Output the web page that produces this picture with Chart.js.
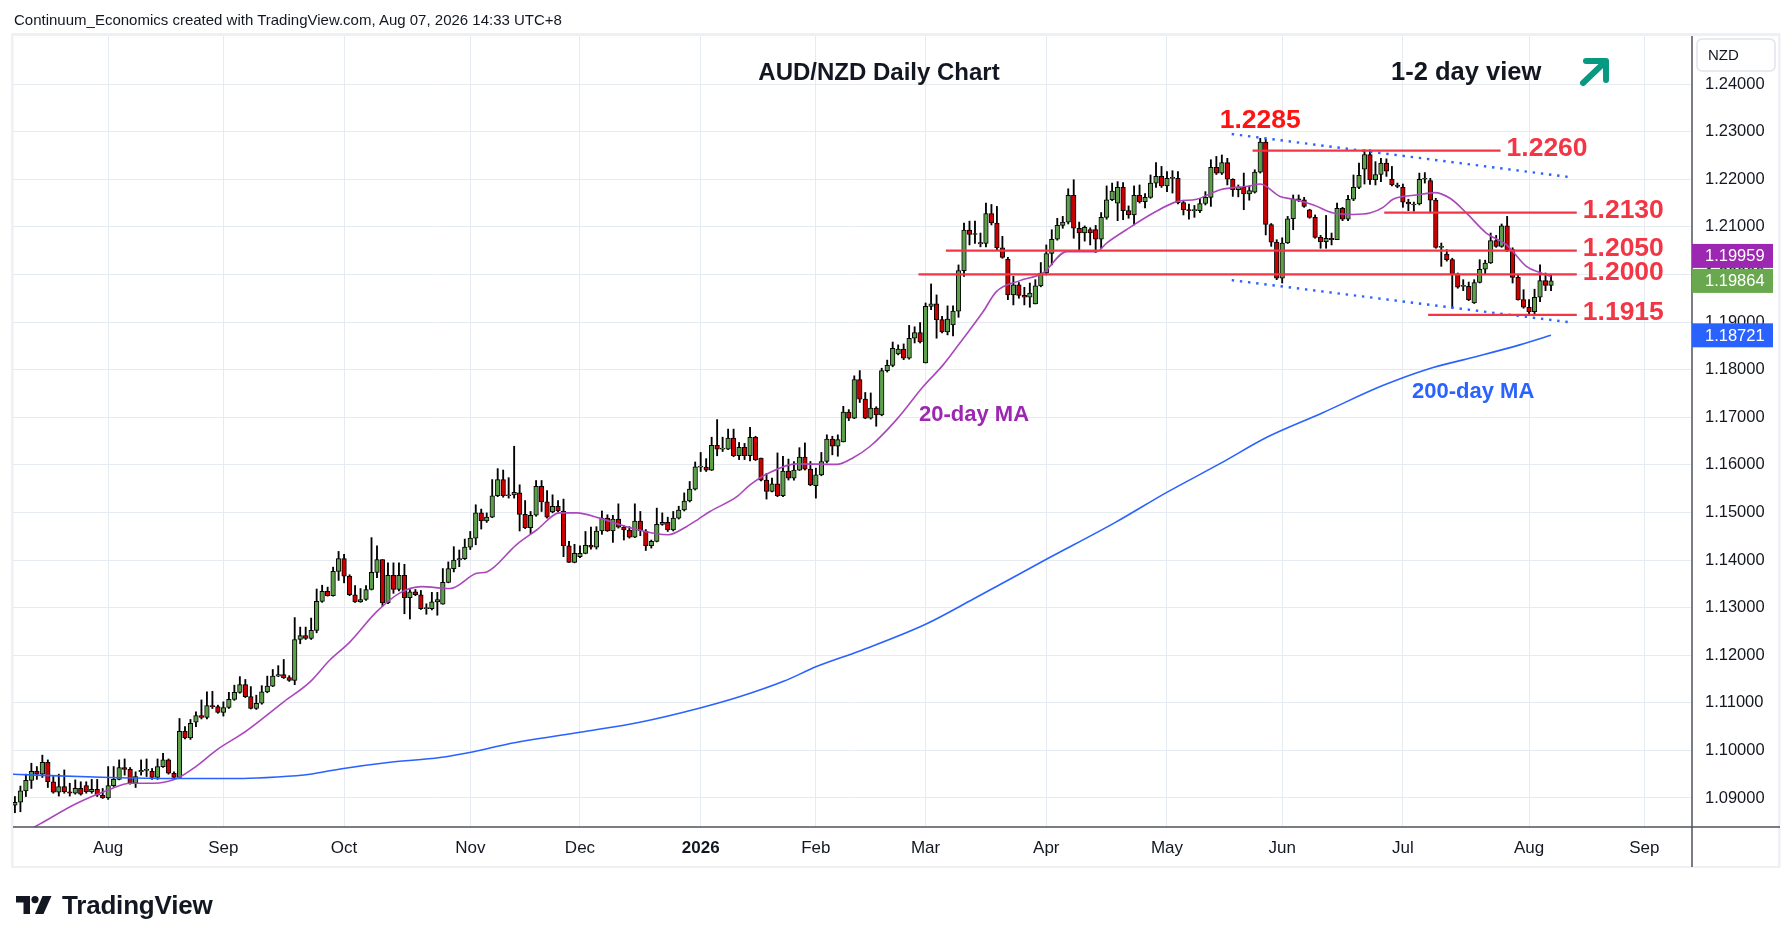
<!DOCTYPE html>
<html>
<head>
<meta charset="utf-8">
<title>AUD/NZD Daily Chart</title>
<script src="https://cdn.jsdelivr.net/npm/chart.js@4.4.1/dist/chart.umd.min.js"></script>
<style>
html, body { margin: 0; padding: 0; background: #fff; }
#wrap { position: relative; width: 1792px; height: 942px; overflow: hidden; font-family: 'Liberation Sans', Arial, sans-serif; }
#chart { position: absolute; left: 0; top: 0; }
#hdr { position: absolute; left: 14px; top: 10px; font-size: 15px; line-height: 20px; color: #131722; white-space: nowrap; }
#brand { position: absolute; left: 16px; top: 892px; height: 26px; display: flex; align-items: center; }
#brand span { font-size: 26px; font-weight: bold; color: #131722; margin-left: 10px; letter-spacing: -0.2px; }
</style>
</head>
<body>
<div id="wrap">
  <canvas id="chart" width="1792" height="942"></canvas>
  <div id="hdr">Continuum_Economics created with TradingView.com, Aug 07, 2026 14:33 UTC+8</div>
  <div id="brand">
    <svg width="36" height="20" viewBox="0 0 36 20"><path d="M0 1h14v18h-6.5v-11.5h-7.5z" fill="#131722"/><circle cx="19" cy="4.6" r="3.6" fill="#131722"/><path d="M26.5 1h9l-8 18h-8.5z" fill="#131722"/></svg>
    <span>TradingView</span>
  </div>
</div>
<script>
// daily AUD/NZD bars, index 0 = 9 Jul 2025 ... 280 = 7 Aug 2026 (weekdays only)
var opens = [
  1.0885,1.0891,1.0915,1.0937,1.0956,1.0950,1.0975,1.0934,1.0912,1.0924,
  1.0913,1.0910,1.0920,1.0926,1.0913,1.0918,1.0906,1.0900,1.0926,1.0939,
  1.0964,1.0960,1.0931,1.0955,1.0958,1.0956,1.0943,1.0966,1.0980,1.0952,
  1.0943,1.1040,1.1026,1.1059,1.1073,1.1069,1.1094,1.1092,1.1080,1.1090,
  1.1107,1.1122,1.1138,1.1113,1.1088,1.1099,1.1123,1.1135,1.1156,1.1159,
  1.1153,1.1147,1.1233,1.1241,1.1235,1.1252,1.1313,1.1334,1.1325,1.1376,
  1.1403,1.1366,1.1327,1.1312,1.1317,1.1338,1.1374,1.1401,1.1310,1.1368,
  1.1338,1.1368,1.1321,1.1333,1.1327,1.1298,1.1298,1.1312,1.1307,1.1353,
  1.1382,1.1400,1.1403,1.1427,1.1446,1.1499,1.1482,1.1490,1.1535,1.1569,
  1.1535,1.1537,1.1541,1.1496,1.1468,1.1494,1.1555,1.1522,1.1501,1.1513,
  1.1503,1.1430,1.1395,1.1407,1.1414,1.1431,1.1427,1.1461,1.1488,1.1461,
  1.1486,1.1469,1.1463,1.1448,1.1482,1.1461,1.1430,1.1439,1.1475,1.1479,
  1.1463,1.1488,1.1505,1.1524,1.1549,1.1595,1.1595,1.1589,1.1641,1.1633,
  1.1633,1.1656,1.1619,1.1637,1.1619,1.1658,1.1614,1.1568,1.1544,1.1560,
  1.1535,1.1587,1.1572,1.1589,1.1616,1.1591,1.1556,1.1579,1.1607,1.1654,
  1.1639,1.1648,1.1711,1.1698,1.1779,1.1738,1.1698,1.1719,1.1705,1.1798,
  1.1809,1.1833,1.1843,1.1824,1.1866,1.1878,1.1814,1.1933,1.1938,1.1905,
  1.1879,1.1894,1.1923,1.2008,1.2093,1.2084,1.2064,1.2065,1.2128,1.2108,
  1.2056,1.2032,1.1957,1.1978,1.1956,1.1952,1.1938,1.1976,1.2003,1.2044,
  1.2074,1.2103,1.2110,1.2166,1.2097,1.2087,1.2094,1.2094,1.2074,1.2120,
  1.2157,1.2150,1.2183,1.2134,1.2125,1.2166,1.2153,1.2162,1.2192,1.2206,
  1.2186,1.2202,1.2202,1.2151,1.2136,1.2134,1.2134,1.2149,1.2162,1.2225,
  1.2213,1.2235,1.2200,1.2178,1.2183,1.2169,1.2173,1.2215,1.2278,1.2105,
  1.2068,1.1992,1.2066,1.2117,1.2159,1.2157,1.2136,1.2120,1.2078,1.2069,
  1.2076,1.2073,1.2139,1.2116,1.2158,1.2183,1.2221,1.2252,1.2199,1.2210,
  1.2234,1.2200,1.2188,1.2183,1.2152,1.2146,1.2148,1.2200,1.2197,1.2156,
  1.2057,1.2043,1.2031,1.2001,1.1975,1.1975,1.1940,1.1983,1.2011,1.2024,
  1.2071,1.2059,1.2102,1.2052,1.1994,1.1947,1.1931,1.1922,1.1952,1.1987,
  1.1977
];
var highs = [
  1.0903,1.0925,1.0950,1.0973,1.0966,1.0990,1.0980,1.0945,1.0950,1.0959,
  1.0931,1.0938,1.0934,1.0934,1.0939,1.0939,1.0920,1.0966,1.0966,1.0980,
  1.0982,1.0964,1.0955,1.0980,1.0982,1.0962,1.0982,1.0994,1.0982,1.0955,
  1.1067,1.1050,1.1065,1.1081,1.1106,1.1123,1.1124,1.1095,1.1102,1.1122,
  1.1137,1.1155,1.1149,1.1134,1.1116,1.1136,1.1156,1.1170,1.1178,1.1191,
  1.1157,1.1279,1.1259,1.1259,1.1278,1.1339,1.1347,1.1343,1.1385,1.1418,
  1.1412,1.1369,1.1346,1.1340,1.1346,1.1447,1.1430,1.1401,1.1394,1.1394,
  1.1394,1.1391,1.1338,1.1338,1.1336,1.1308,1.1332,1.1332,1.1382,1.1396,
  1.1428,1.1421,1.1444,1.1460,1.1516,1.1507,1.1499,1.1569,1.1592,1.1589,
  1.1573,1.1639,1.1558,1.1525,1.1502,1.1567,1.1567,1.1546,1.1537,1.1525,
  1.1528,1.1439,1.1433,1.1430,1.1460,1.1469,1.1470,1.1503,1.1495,1.1494,
  1.1518,1.1472,1.1470,1.1518,1.1502,1.1464,1.1442,1.1509,1.1499,1.1490,
  1.1502,1.1513,1.1541,1.1565,1.1606,1.1626,1.1613,1.1658,1.1695,1.1658,
  1.1675,1.1675,1.1647,1.1645,1.1679,1.1660,1.1614,1.1582,1.1572,1.1625,
  1.1618,1.1612,1.1607,1.1636,1.1646,1.1607,1.1593,1.1626,1.1663,1.1660,
  1.1663,1.1723,1.1716,1.1787,1.1798,1.1752,1.1751,1.1722,1.1803,1.1820,
  1.1858,1.1852,1.1854,1.1893,1.1890,1.1899,1.1940,1.1980,1.1957,1.1912,
  1.1934,1.1934,1.2020,1.2108,1.2112,1.2112,1.2087,1.2150,1.2147,1.2143,
  1.2080,1.2036,1.1996,1.1983,1.1973,1.1982,1.1989,1.2025,1.2062,1.2094,
  1.2118,1.2122,1.2180,1.2199,1.2110,1.2102,1.2098,1.2103,1.2130,1.2186,
  1.2192,1.2195,1.2193,1.2144,1.2186,1.2188,1.2170,1.2209,1.2235,1.2227,
  1.2216,1.2218,1.2216,1.2156,1.2148,1.2145,1.2160,1.2174,1.2241,1.2248,
  1.2251,1.2244,1.2201,1.2188,1.2213,1.2186,1.2220,1.2286,1.2284,1.2107,
  1.2073,1.2077,1.2122,1.2167,1.2167,1.2162,1.2137,1.2125,1.2082,1.2124,
  1.2087,1.2150,1.2141,1.2166,1.2209,1.2234,1.2262,1.2262,1.2237,1.2244,
  1.2243,1.2227,1.2192,1.2190,1.2158,1.2152,1.2213,1.2214,1.2202,1.2160,
  1.2066,1.2052,1.2034,1.2003,1.1989,1.1984,1.1989,1.2031,1.2030,1.2087,
  1.2082,1.2106,1.2122,1.2056,1.1999,1.1968,1.1947,1.1969,1.2020,1.2003,
  1.1999
];
var lows = [
  1.0869,1.0871,1.0903,1.0920,1.0939,1.0943,1.0922,1.0910,1.0904,1.0910,
  1.0904,1.0908,1.0906,1.0910,1.0910,1.0903,1.0899,1.0897,1.0924,1.0938,
  1.0948,1.0929,1.0922,1.0948,1.0945,1.0939,1.0939,1.0964,1.0950,1.0939,
  1.0941,1.1024,1.1023,1.1050,1.1066,1.1066,1.1088,1.1078,1.1072,1.1088,
  1.1105,1.1120,1.1111,1.1087,1.1086,1.1097,1.1121,1.1134,1.1155,1.1151,
  1.1145,1.1138,1.1224,1.1233,1.1233,1.1247,1.1311,1.1324,1.1324,1.1357,
  1.1352,1.1325,1.1311,1.1311,1.1315,1.1337,1.1363,1.1303,1.1308,1.1330,
  1.1335,1.1287,1.1276,1.1325,1.1296,1.1286,1.1295,1.1284,1.1307,1.1352,
  1.1375,1.1386,1.1401,1.1422,1.1432,1.1465,1.1479,1.1489,1.1533,1.1532,
  1.1530,1.1530,1.1461,1.1466,1.1455,1.1492,1.1502,1.1488,1.1499,1.1501,
  1.1407,1.1395,1.1394,1.1405,1.1413,1.1423,1.1423,1.1454,1.1460,1.1437,
  1.1467,1.1442,1.1446,1.1447,1.1451,1.1420,1.1425,1.1438,1.1473,1.1460,
  1.1461,1.1486,1.1503,1.1522,1.1547,1.1586,1.1586,1.1588,1.1619,1.1628,
  1.1632,1.1617,1.1611,1.1611,1.1608,1.1609,1.1566,1.1528,1.1543,1.1533,
  1.1533,1.1568,1.1568,1.1588,1.1589,1.1556,1.1530,1.1577,1.1604,1.1621,
  1.1618,1.1648,1.1693,1.1697,1.1731,1.1697,1.1696,1.1681,1.1703,1.1795,
  1.1806,1.1831,1.1821,1.1822,1.1856,1.1856,1.1814,1.1926,1.1866,1.1877,
  1.1873,1.1871,1.1910,1.1996,1.2062,1.2065,1.2058,1.2058,1.2104,1.2052,
  1.2034,1.1947,1.1936,1.1950,1.1936,1.1931,1.1938,1.1974,1.1999,1.2020,
  1.2072,1.2097,1.2106,1.2076,1.2048,1.2070,1.2062,1.2046,1.2055,1.2116,
  1.2155,1.2113,1.2115,1.2118,1.2104,1.2150,1.2140,1.2160,1.2183,1.2183,
  1.2174,1.2171,1.2148,1.2125,1.2116,1.2120,1.2130,1.2146,1.2143,1.2210,
  1.2210,1.2188,1.2164,1.2163,1.2136,1.2156,1.2171,1.2213,1.2083,1.2059,
  1.1989,1.1982,1.2065,1.2094,1.2153,1.2141,1.2118,1.2076,1.2055,1.2055,
  1.2062,1.2073,1.2113,1.2113,1.2155,1.2180,1.2190,1.2189,1.2188,1.2195,
  1.2206,1.2186,1.2182,1.2141,1.2134,1.2133,1.2146,1.2192,1.2130,1.2055,
  1.2017,1.2028,1.1929,1.1971,1.1966,1.1945,1.1939,1.1982,1.2001,1.2023,
  1.2057,1.2057,1.2048,1.1982,1.1946,1.1929,1.1915,1.1915,1.1943,1.1966,
  1.1966
];
var closes = [
  1.0891,1.0915,1.0937,1.0956,1.0950,1.0975,1.0934,1.0912,1.0924,1.0913,
  1.0910,1.0920,1.0908,1.0913,1.0918,1.0906,1.0900,1.0926,1.0939,1.0964,
  1.0960,1.0931,1.0945,1.0958,1.0958,1.0943,1.0966,1.0980,1.0952,1.0943,
  1.1040,1.1026,1.1057,1.1073,1.1069,1.1094,1.1092,1.1080,1.1090,1.1107,
  1.1122,1.1138,1.1113,1.1088,1.1099,1.1123,1.1135,1.1156,1.1159,1.1153,
  1.1147,1.1233,1.1241,1.1235,1.1252,1.1313,1.1334,1.1325,1.1376,1.1403,
  1.1366,1.1327,1.1312,1.1317,1.1338,1.1374,1.1401,1.1310,1.1368,1.1338,
  1.1368,1.1321,1.1333,1.1327,1.1298,1.1298,1.1312,1.1317,1.1353,1.1382,
  1.1400,1.1403,1.1427,1.1446,1.1499,1.1482,1.1490,1.1535,1.1569,1.1535,
  1.1537,1.1542,1.1496,1.1468,1.1494,1.1555,1.1522,1.1490,1.1513,1.1503,
  1.1430,1.1395,1.1414,1.1414,1.1431,1.1427,1.1461,1.1488,1.1461,1.1486,
  1.1469,1.1463,1.1448,1.1482,1.1461,1.1430,1.1439,1.1475,1.1479,1.1463,
  1.1488,1.1505,1.1524,1.1549,1.1596,1.1595,1.1589,1.1641,1.1633,1.1633,
  1.1656,1.1619,1.1637,1.1619,1.1658,1.1611,1.1568,1.1544,1.1560,1.1535,
  1.1587,1.1572,1.1589,1.1616,1.1591,1.1558,1.1579,1.1607,1.1654,1.1639,
  1.1653,1.1711,1.1698,1.1779,1.1738,1.1698,1.1719,1.1705,1.1798,1.1809,
  1.1845,1.1843,1.1824,1.1866,1.1878,1.1858,1.1933,1.1938,1.1905,1.1879,
  1.1906,1.1923,1.2008,1.2093,1.2084,1.2084,1.2067,1.2128,1.2108,1.2056,
  1.2036,1.1957,1.1978,1.1956,1.1952,1.1961,1.1976,1.2003,1.2044,1.2074,
  1.2103,1.2110,1.2166,1.2097,1.2087,1.2099,1.2087,1.2074,1.2120,1.2157,
  1.2175,1.2183,1.2134,1.2125,1.2166,1.2153,1.2162,1.2192,1.2206,1.2186,
  1.2202,1.2202,1.2151,1.2136,1.2134,1.2134,1.2149,1.2162,1.2225,1.2213,
  1.2235,1.2200,1.2178,1.2183,1.2169,1.2176,1.2215,1.2278,1.2105,1.2068,
  1.1992,1.2066,1.2117,1.2159,1.2157,1.2143,1.2120,1.2078,1.2069,1.2076,
  1.2073,1.2139,1.2116,1.2158,1.2183,1.2208,1.2252,1.2199,1.2210,1.2234,
  1.2217,1.2188,1.2185,1.2152,1.2148,1.2148,1.2200,1.2201,1.2156,1.2057,
  1.2057,1.2031,1.2001,1.1973,1.1975,1.1947,1.1983,1.2011,1.2024,1.2071,
  1.2059,1.2102,1.2052,1.1994,1.1947,1.1931,1.1922,1.1952,1.1987,1.1977,
  1.19864
];

// moving averages (bar index, value)
var ma20Idx = [1.5,4.5,11.3,17.3,21,25.2,29.5,33.1,36.8,42.2,49,53.8,57.4,61,65.9,70.2,74.1,79.3,84.2,86,
  91.4,95.1,99.3,102.4,106.6,111.5,117,119.1,122.4,124.6,126.7,131.6,134,137.6,142.5,149.8,152.8,155.9,160.7,165.6,
  169.2,172.9,176.5,178.9,183.2,187.4,191.7,197.2,199,202.6,207.5,211.8,215.4,219.7,225.1,227,230.6,233,236.7,240.3,
  243.9,247,249.4,251.2,255.5,258.8,261.6,264.6,268.2,271.9,275.5,278,280];
var ma20Val = [1.0826,1.0845,1.0889,1.0918,1.0931,1.0931,1.0941,1.0967,1.1001,1.1041,1.1102,1.1144,1.1190,1.1227,1.1291,1.1331,1.1344,1.1340,1.1372,1.1375,
  1.1432,1.1463,1.1499,1.1499,1.1488,1.1470,1.1455,1.1453,1.1470,1.1486,1.1502,1.1533,1.1558,1.1584,1.1602,1.1601,1.1615,1.1639,1.1695,1.1765,
  1.1810,1.1866,1.1922,1.1964,1.1987,1.2003,1.2048,1.2048,1.2066,1.2094,1.2129,1.2153,1.2158,1.2178,1.2186,1.2190,1.2164,1.2158,1.2146,1.2129,
  1.2126,1.2129,1.2141,1.2158,1.2167,1.2172,1.2160,1.2129,1.2087,1.2062,1.2017,1.2004,1.19959];
var ma200Idx = [-1,17.3,29.5,41.6,47.7,53.8,59.3,68.4,77.5,83.6,89.7,103,113.9,124.9,132.2,140.1,146.1,154,166,174.7,
  188.1,200.6,209.8,219.9,228.2,238.3,249.2,257.5,265.9,274.3,280];
var ma200Val = [1.0950,1.0943,1.0941,1.0941,1.0944,1.0950,1.0961,1.0975,1.0985,1.0997,1.1013,1.1038,1.1059,1.1089,1.1113,1.1145,1.1176,1.1209,1.1265,1.1318,
  1.1402,1.1479,1.1541,1.1604,1.1658,1.1709,1.1766,1.1801,1.1826,1.1852,1.18721];

// support / resistance levels and the falling channel
var levels = [1.2260, 1.2130, 1.2050, 1.2000, 1.1915];
var levelFrom = [225.6, 249.6, 169.7, 164.7, 257.6];
var levelTo = [270.8, 284.7, 284.7, 284.7, 284.7];
var channelIdx = [221.8, 283.1];
var channelTop = [1.2295, 1.2205];
var channelBottom = [1.1988, 1.1900];
var peakIdx = 227;

// axis ticks
var monthIdx = [17, 38, 60, 83, 103, 125, 146, 166, 188, 210, 231, 253, 276, 297];
var monthLabels = ['Aug', 'Sep', 'Oct', 'Nov', 'Dec', '2026', 'Feb', 'Mar', 'Apr', 'May', 'Jun', 'Jul', 'Aug', 'Sep'];
var priceTicks = [1.09, 1.10, 1.11, 1.12, 1.13, 1.14, 1.15, 1.16, 1.17, 1.18, 1.19, 1.20, 1.21, 1.22, 1.23, 1.24];

var UP = '#5d9f4b';
var DOWN = '#cc0000';
var FONT = "'Liberation Sans', Arial, sans-serif";
Chart.defaults.font.family = FONT;
Chart.defaults.color = '#131722';

function points(xs, ys) {
    return xs.map(function (x, i) { return { x: x, y: ys[i] }; });
}

var wickData = closes.map(function (c, i) { return { x: i, y: [lows[i], highs[i]] }; });
var bodyData = closes.map(function (c, i) { return { x: i, y: [opens[i], c] }; });

var datasets = [
    {
        type: 'bar', data: wickData, grouped: false, barThickness: 1.2,
        backgroundColor: '#000', borderWidth: 0, order: 6
    },
    {
        type: 'bar', data: bodyData, grouped: false, barThickness: 4.6, minBarLength: 1,
        backgroundColor: function (ctx) {
            var i = ctx.dataIndex;
            return closes[i] >= opens[i] ? UP : DOWN;
        },
        borderColor: '#000', borderWidth: 1, borderSkipped: false, order: 5
    },
    {
        type: 'line', data: points(ma200Idx, ma200Val), borderColor: '#2962ff', borderWidth: 1.6,
        pointRadius: 0, cubicInterpolationMode: 'monotone', order: 3
    },
    {
        type: 'line', data: points(ma20Idx, ma20Val), borderColor: '#ab47bc', borderWidth: 1.6,
        pointRadius: 0, cubicInterpolationMode: 'monotone', order: 3
    },
    {
        type: 'line', data: points(channelIdx, channelTop), borderColor: '#2962ff', borderWidth: 2.4,
        borderDash: [2.4, 5.8], pointRadius: 0, order: 2
    },
    {
        type: 'line', data: points(channelIdx, channelBottom), borderColor: '#2962ff', borderWidth: 2.4,
        borderDash: [2.4, 5.8], pointRadius: 0, order: 2
    }
];
for (var k = 0; k < levels.length; k++) {
    datasets.push({
        type: 'line', data: [{ x: levelFrom[k], y: levels[k] }, { x: levelTo[k], y: levels[k] }],
        borderColor: '#f23645', borderWidth: 2.2, pointRadius: 0, order: 1
    });
}

function priceBox(c, yc, bg, txt) {
    c.fillStyle = bg;
    c.fillRect(1692, yc - 12, 81, 24);
    c.fillStyle = '#fff';
    c.font = '16.5px ' + FONT;
    c.textAlign = 'left';
    c.textBaseline = 'middle';
    c.fillText(txt, 1705, yc + 1);
}

var overlay = {
    id: 'overlay',
    beforeDraw: function (chart) {
        var c = chart.ctx;
        c.save();
        c.fillStyle = '#eef0f4';
        c.fillRect(11, 33, 1769, 3);
        c.fillRect(11, 33, 2.5, 835);
        c.fillRect(1778, 33, 2.5, 835);
        c.fillRect(11, 866, 1769, 2);
        c.restore();
    },
    afterDatasetsDraw: function (chart) {
        var c = chart.ctx;
        var xs = chart.scales.x, ys = chart.scales.y;
        c.save();
        c.textBaseline = 'middle';
        // title block
        c.fillStyle = '#131722';
        c.font = 'bold 24px ' + FONT;
        c.textAlign = 'center';
        c.fillText('AUD/NZD Daily Chart', 879, 73);
        c.textAlign = 'left';
        c.font = 'bold 25.5px ' + FONT;
        c.fillText('1-2 day view', 1391, 73);
        // up arrow
        c.strokeStyle = '#089981';
        c.lineWidth = 6;
        c.lineCap = 'round';
        c.lineJoin = 'round';
        c.beginPath();
        c.moveTo(1583, 83); c.lineTo(1605, 62);
        c.moveTo(1586, 61); c.lineTo(1606, 61); c.lineTo(1606, 80);
        c.stroke();
        // peak label
        c.fillStyle = '#ff1414';
        c.font = 'bold 26.5px ' + FONT;
        c.textAlign = 'center';
        c.fillText('1.2285', xs.getPixelForValue(peakIdx), ys.getPixelForValue(highs[peakIdx]) - 18);
        // level labels
        c.fillStyle = '#f23645';
        c.textAlign = 'left';
        for (var k = 0; k < levels.length; k++) {
            c.fillText(levels[k].toFixed(4), xs.getPixelForValue(levelTo[k]) + 6, ys.getPixelForValue(levels[k]) - 2);
        }
        // MA labels
        c.font = 'bold 22px ' + FONT;
        c.fillStyle = '#9c27b0';
        c.fillText('20-day MA', 919, 415);
        c.fillStyle = '#2962ff';
        c.fillText('200-day MA', 1412, 392);
        c.restore();
    },
    afterDraw: function (chart) {
        var c = chart.ctx;
        var ys = chart.scales.y;
        c.save();
        // axis separators
        c.strokeStyle = '#50535e';
        c.lineWidth = 1.5;
        c.beginPath();
        c.moveTo(13, 827); c.lineTo(1780, 827);
        c.moveTo(1692, 36); c.lineTo(1692, 867);
        c.stroke();
        // currency box
        c.fillStyle = '#fff';
        c.strokeStyle = '#e0e3eb';
        c.lineWidth = 1.5;
        c.beginPath();
        c.roundRect(1697, 39, 78, 32, 5);
        c.fill();
        c.stroke();
        c.fillStyle = '#131722';
        c.font = '15px ' + FONT;
        c.textBaseline = 'middle';
        c.fillText('NZD', 1708, 56);
        // last value labels
        var last = closes.length - 1;
        var yClose = ys.getPixelForValue(closes[last]);
        var yMa20 = Math.min(ys.getPixelForValue(ma20Val[ma20Val.length - 1]), yClose - 25);
        priceBox(c, yMa20, '#9c27b0', ma20Val[ma20Val.length - 1].toFixed(5));
        priceBox(c, yClose, '#6aa84f', closes[last].toFixed(5));
        priceBox(c, ys.getPixelForValue(ma200Val[ma200Val.length - 1]), '#2962ff', ma200Val[ma200Val.length - 1].toFixed(5));
        c.restore();
    }
};

new Chart(document.getElementById('chart'), {
    type: 'bar',
    data: { datasets: datasets },
    options: {
        responsive: false,
        animation: false,
        events: [],
        layout: { padding: { left: 13, right: 12, top: 36, bottom: 75 } },
        plugins: { legend: { display: false }, tooltip: { enabled: false } },
        scales: {
            x: {
                type: 'linear', min: -0.35, max: 305.7, offset: false,
                grid: { color: '#e6ebf1', lineWidth: 1, drawTicks: false, offset: false },
                border: { display: false },
                afterBuildTicks: function (scale) {
                    scale.ticks = monthIdx.map(function (v) { return { value: v }; });
                },
                afterFit: function (scale) { scale.height = 40; },
                ticks: {
                    autoSkip: false, maxRotation: 0, padding: 11, color: '#131722',
                    font: function (ctx) {
                        var bold = ctx.tick && ctx.tick.label === '2026';
                        return { size: 17, weight: bold ? 'bold' : 'normal' };
                    },
                    callback: function (v) {
                        var j = monthIdx.indexOf(v);
                        return j >= 0 ? monthLabels[j] : '';
                    }
                }
            },
            y: {
                type: 'linear', position: 'right', min: 1.0839, max: 1.2501,
                grid: { color: '#e6ebf1', lineWidth: 1, drawTicks: false },
                border: { display: false },
                afterBuildTicks: function (scale) {
                    scale.ticks = priceTicks.map(function (v) { return { value: v }; });
                },
                afterFit: function (scale) { scale.width = 88; },
                ticks: {
                    padding: 13, color: '#131722', font: { size: 16.5 },
                    callback: function (v) { return Number(v).toFixed(5); }
                }
            }
        }
    },
    plugins: [overlay]
});
</script>
</body>
</html>
